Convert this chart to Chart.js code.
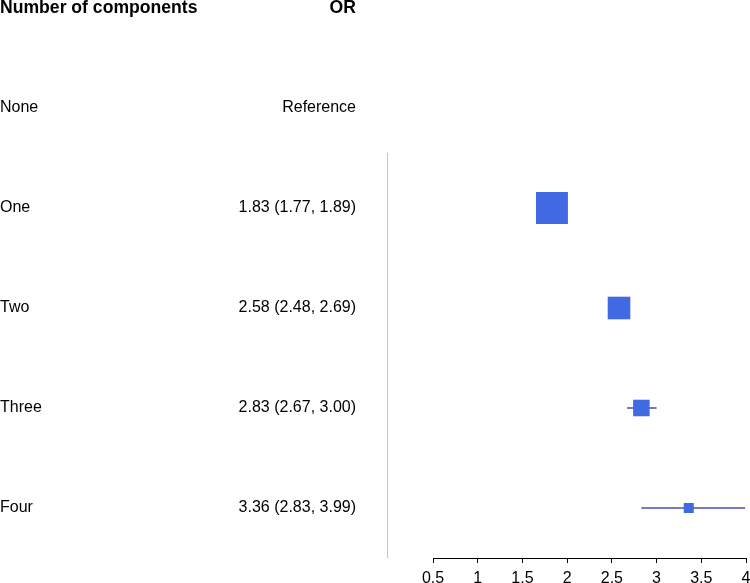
<!DOCTYPE html>
<html>
<head>
<meta charset="utf-8">
<script src="https://cdn.jsdelivr.net/npm/chart.js@4/dist/chart.umd.min.js"></script>
<style>
  body { margin: 0; background: #fff; }
  #wrap { width: 750px; height: 583px; }
</style>
</head>
<body>
<div id="wrap"><canvas id="myChart" width="750" height="583"></canvas></div>
<script>
// data
const groups = ['None', 'One', 'Two', 'Three', 'Four'];
const orValues = [null, 1.83, 2.58, 2.83, 3.36];
const lowerCI = [null, 1.77, 2.48, 2.67, 2.83];
const upperCI = [null, 1.89, 2.69, 3.00, 3.99];
const orLabels = ['Reference', '1.83 (1.77, 1.89)', '2.58 (2.48, 2.69)', '2.83 (2.67, 3.00)', '3.36 (2.83, 3.99)'];
const xTicks = [0.5, 1, 1.5, 2, 2.5, 3, 3.5, 4];
const headers = ['Number of components', 'OR'];

const font = '"Liberation Sans", Arial, sans-serif';

// row 0 is the header, groups start at row 1
const ciSets = [];
groups.forEach((g, i) => {
    if (orValues[i] === null) return;
    ciSets.push({
        type: 'line',
        data: [{x: lowerCI[i], y: i + 1}, {x: upperCI[i], y: i + 1}],
        borderColor: '#4b4bb8',
        borderWidth: 1.5,
        pointRadius: 0,
        showLine: true,
        order: 1
    });
});

const boxPoints = [];
groups.forEach((g, i) => {
    if (orValues[i] !== null) boxPoints.push({x: orValues[i], y: i + 1});
});

const textPlugin = {
    id: 'forestText',
    afterDraw(chart) {
        const c = chart.ctx;
        const y = chart.scales.y;
        const area = chart.chartArea;
        c.save();
        // divider line
        c.strokeStyle = '#c4c4c4';
        c.lineWidth = 1;
        c.beginPath();
        c.moveTo(area.left - 45.5, y.getPixelForValue(1.45));
        c.lineTo(area.left - 45.5, area.bottom);
        c.stroke();

        c.fillStyle = '#000';
        c.textBaseline = 'middle';
        c.font = 'bold 17.6px ' + font;
        c.textAlign = 'left';
        c.fillText(headers[0], 0, y.getPixelForValue(0));
        c.textAlign = 'right';
        c.fillText(headers[1], 356, y.getPixelForValue(0));

        c.font = '16px ' + font;
        groups.forEach((g, i) => {
            const py = y.getPixelForValue(i + 1);
            c.textAlign = 'left';
            c.fillText(g, 0, py);
            c.textAlign = 'right';
            c.fillText(orLabels[i], 356, py);
        });
        c.restore();
    }
};

new Chart(document.getElementById('myChart'), {
    type: 'scatter',
    data: {
        datasets: [...ciSets, {
            type: 'scatter',
            data: boxPoints,
            pointStyle: 'rect',
            pointRadius: [22.6, 16, 11.7, 7.1],
            backgroundColor: '#4169e1',
            borderWidth: 0,
            order: 0
        }]
    },
    options: {
        responsive: false,
        animation: false,
        layout: { autoPadding: false, padding: { left: 433, right: 4, top: 0, bottom: 0 } },
        plugins: { legend: { display: false }, tooltip: { enabled: false } },
        scales: {
            x: {
                type: 'linear',
                min: 0.5,
                max: 4,
                afterBuildTicks: (axis) => { axis.ticks = xTicks.map(v => ({value: v})); },
                afterFit: (axis) => {
                    axis.height = 25;
                    axis.paddingLeft = 0;
                    axis.paddingRight = 0;
                },
                ticks: {
                    color: '#000',
                    font: { family: font, size: 16 },
                    padding: 6,
                    maxRotation: 0,
                    callback: (v) => String(v)
                },
                grid: {
                    drawOnChartArea: false,
                    color: '#000',
                    tickLength: 5,
                    tickColor: '#000'
                },
                border: { color: '#000', width: 1 }
            },
            y: {
                type: 'linear',
                display: false,
                reverse: true,
                min: -0.08,
                max: 5.5
            }
        }
    },
    plugins: [textPlugin]
});
</script>
</body>
</html>
